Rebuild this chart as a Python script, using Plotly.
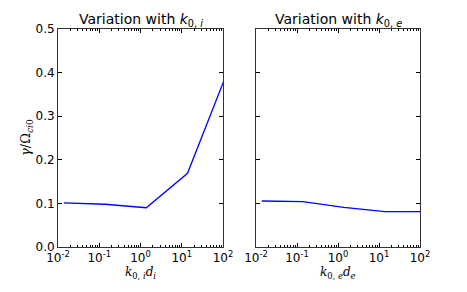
import plotly.graph_objects as go

k_i = [0.0138, 0.138, 1.38, 13.8, 138]
gamma_i = [0.101, 0.098, 0.090, 0.169, 0.41]
k_e = [0.0138, 0.138, 1.38, 13.8, 138]
gamma_e = [0.1055, 0.104, 0.091, 0.081, 0.081]

x_tickvals = [0.01, 0.1, 1, 10, 100]
x_ticktext = ["10<sup>-2</sup>", "10<sup>-1</sup>", "10<sup>0</sup>", "10<sup>1</sup>", "10<sup>2</sup>"]
y_tickvals = [0.0, 0.1, 0.2, 0.3, 0.4, 0.5]
y_ticktext = ["0.0", "0.1", "0.2", "0.3", "0.4", "0.5"]

minor_vals = [m * 10 ** e for e in range(-2, 2) for m in range(2, 10)]

W, H = 467, 292
OFF = 8  # page body margin offset
fig = go.Figure()
fig.add_trace(go.Scatter(x=k_i, y=gamma_i, mode="lines", line=dict(color="#0000ff", width=1.3),
                         xaxis="x", yaxis="y", showlegend=False, cliponaxis=True))
fig.add_trace(go.Scatter(x=k_e, y=gamma_e, mode="lines", line=dict(color="#0000ff", width=1.3),
                         xaxis="x2", yaxis="y2", showlegend=False, cliponaxis=True))

font = dict(family="DejaVu Sans", size=12, color="black")
common_x = dict(type="log", range=[-2, 2], tickvals=x_tickvals, ticktext=x_ticktext,
                ticks="inside", ticklen=4, tickcolor="black", showline=True, linecolor="#333",
                linewidth=1, mirror="ticks", showgrid=False, zeroline=False, tickfont=font,
                automargin=False,
                minor=dict(tickvals=minor_vals, ticks="inside", ticklen=2, tickcolor="black", showgrid=False))
common_y = dict(range=[0, 0.5], tickvals=y_tickvals, ticks="inside", ticklen=4, tickcolor="black",
                showline=True, linecolor="#333", linewidth=1, mirror="ticks", showgrid=False,
                zeroline=False, tickfont=font, automargin=False)

def px(x):
    return (x - OFF) / W

def py(y):
    return 1 - (y - OFF) / H

x0a, x1a = px(58), px(223)
x0b, x1b = px(256), px(420)
y0, y1 = py(247), py(29)

fig.update_layout(
    width=W, height=H, margin=dict(l=0, r=0, t=0, b=0, autoexpand=False),
    paper_bgcolor="white", plot_bgcolor="white",
    xaxis=dict(domain=[x0a, x1a], anchor="y", **common_x),
    yaxis=dict(domain=[y0, y1], anchor="x", ticktext=y_ticktext, **common_y),
    xaxis2=dict(domain=[x0b, x1b], anchor="y2", **common_x),
    yaxis2=dict(domain=[y0, y1], anchor="x2", showticklabels=False, **common_y),
    annotations=[
        dict(text="Variation with <i>k</i><sub>0, <i>i</i></sub>", x=(x0a + x1a) / 2, y=y1, xref="paper", yref="paper",
             xanchor="center", yanchor="bottom", showarrow=False, yshift=-2,
             font=dict(family="DejaVu Sans", size=14, color="black")),
        dict(text="Variation with <i>k</i><sub>0, <i>e</i></sub>", x=(x0b + x1b) / 2, y=y1, xref="paper", yref="paper",
             xanchor="center", yanchor="bottom", showarrow=False, yshift=-2,
             font=dict(family="DejaVu Sans", size=14, color="black")),
        dict(text="<i>k</i><sub>0, <i>i</i></sub><i>d</i><sub><i>i</i></sub>", x=(x0a + x1a) / 2, y=py(273),
             xref="paper", yref="paper", xanchor="center", yanchor="middle", showarrow=False,
             font=dict(family="DejaVu Serif", size=12, color="black")),
        dict(text="<i>k</i><sub>0, <i>e</i></sub><i>d</i><sub><i>e</i></sub>", x=(x0b + x1b) / 2, y=py(273),
             xref="paper", yref="paper", xanchor="center", yanchor="middle", showarrow=False,
             font=dict(family="DejaVu Serif", size=12, color="black")),
        dict(text="<i>γ</i>/Ω<sub><i>ci</i>0</sub>", x=px(26), y=(y0 + y1) / 2,
             xref="paper", yref="paper", xanchor="center", yanchor="middle", showarrow=False, textangle=-90,
             font=dict(family="DejaVu Serif", size=13, color="black")),
    ],
)

fig.write_html("out.html")
